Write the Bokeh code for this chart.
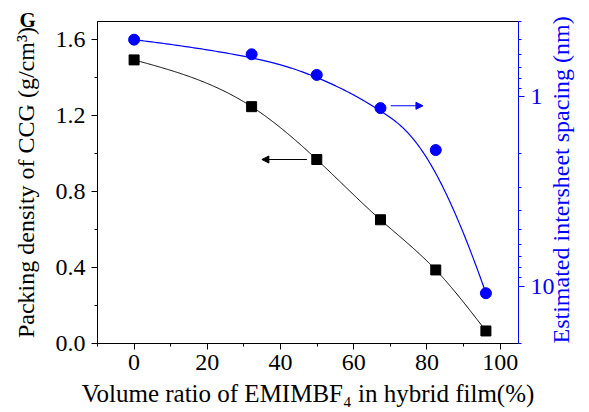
import numpy as np
from math import pi
from bokeh.plotting import figure
from bokeh.models import (Range1d, LogScale, LogAxis, LinearAxis, FixedTicker,
                          SingleIntervalTicker, PrintfTickFormatter, Title,
                          Arrow, NormalHead)
from bokeh.embed import file_html
from bokeh.resources import INLINE

# ---------------- data ----------------
volume_ratio = [0.0, 32.1, 49.9, 67.3, 82.4, 96.1]          # % EMIMBF4
packing_density = [1.492, 1.246, 0.968, 0.651, 0.387, 0.066]  # g/cm3
intersheet_spacing = [0.499, 0.596, 0.766, 1.147, 1.91, 10.9]  # nm

x_ticks = [0, 20, 40, 60, 80, 100]
left_ticks = [0.0, 0.4, 0.8, 1.2, 1.6]
right_ticks = [1, 10]
right_minor = [0.4, 0.5, 0.6, 0.7, 0.8, 0.9, 2, 3, 4, 5, 6, 7, 8, 9, 20]

# annotation arrows (data coordinates)
black_arrow = dict(x0=47.2, x1=34.9, y=0.968)
blue_arrow = dict(x0=70.1, x1=78.9, y=1.115)

FONT = "Liberation Serif"
BLUE = "#0000ff"

xk = np.array(volume_ratio)
yk = np.array(packing_density)
dk = np.array(intersheet_spacing)


def natural_cubic(xk, yk, xs):
    n = len(xk)
    h = np.diff(xk)
    A = np.zeros((n, n))
    r = np.zeros(n)
    A[0, 0] = 1
    A[-1, -1] = 1
    for i in range(1, n - 1):
        A[i, i - 1] = h[i - 1]
        A[i, i] = 2 * (h[i - 1] + h[i])
        A[i, i + 1] = h[i]
        r[i] = 6 * ((yk[i + 1] - yk[i]) / h[i] - (yk[i] - yk[i - 1]) / h[i - 1])
    M = np.linalg.solve(A, r)
    idx = np.clip(np.searchsorted(xk, xs) - 1, 0, n - 2)
    x0 = xk[idx]
    x1 = xk[idx + 1]
    hh = x1 - x0
    t1 = x1 - xs
    t0 = xs - x0
    return (M[idx] * t1 ** 3 / (6 * hh) + M[idx + 1] * t0 ** 3 / (6 * hh)
            + (yk[idx] / hh - M[idx] * hh / 6) * t1
            + (yk[idx + 1] / hh - M[idx + 1] * hh / 6) * t0)


def clamped_bspline(cx, cy, num=400, k=3):
    n = len(cx)
    spans = n - k
    knots = np.concatenate([np.zeros(k), np.arange(0, spans + 1), np.full(k, spans)]).astype(float)
    u = np.linspace(0, spans, num)
    N = np.zeros((num, len(knots) - 1))
    for i in range(len(knots) - 1):
        N[:, i] = ((u >= knots[i]) & (u < knots[i + 1])).astype(float)
    N[u >= spans, n - 1] = 1.0
    for d in range(1, k + 1):
        Nn = np.zeros((num, len(knots) - 1 - d))
        for i in range(len(knots) - 1 - d):
            a = knots[i + d] - knots[i]
            b = knots[i + d + 1] - knots[i + 1]
            t1 = (u - knots[i]) / a * N[:, i] if a > 0 else 0.0
            t2 = (knots[i + d + 1] - u) / b * N[:, i + 1] if b > 0 else 0.0
            Nn[:, i] = t1 + t2
        N = Nn
    return N @ np.asarray(cx), N @ np.asarray(cy)


xs = np.linspace(xk[0], xk[-1], 400)
black_curve = natural_cubic(xk, yk, xs)

# B-spline connection for spacing (in displayed log space)
bx, by = clamped_bspline(xk, np.log10(dk))
blue_curve = 10 ** by

# ---------------- figure ----------------
p = figure(width=589, height=412, output_backend="svg", toolbar_location=None,
           x_range=Range1d(-10, 105), y_range=Range1d(0, 1.694),
           min_border_left=97, min_border_right=68, min_border_top=21,
           min_border_bottom=69, background_fill_color="white",
           border_fill_color="white", x_axis_type=None, y_axis_type=None)
p.outline_line_color = "black"
p.outline_line_width = 1
p.xgrid.visible = False
p.ygrid.visible = False

p.extra_y_ranges = {"right": Range1d(start=20.1, end=0.4)}
p.extra_y_scales = {"right": LogScale()}


def style_axis(ax, color, size):
    ax.axis_line_color = color
    ax.major_tick_line_color = color
    ax.minor_tick_line_color = color
    ax.major_label_text_color = color
    ax.axis_label_text_color = color
    ax.major_tick_in = 0
    ax.major_tick_out = 6
    ax.minor_tick_in = 0
    ax.minor_tick_out = 3
    ax.major_label_text_font = FONT
    ax.major_label_text_font_size = "24px"
    ax.axis_label_text_font = FONT
    ax.axis_label_text_font_size = size
    ax.axis_label_text_font_style = "normal"


xaxis = LinearAxis(ticker=SingleIntervalTicker(interval=20, num_minor_ticks=2),
                   axis_label="Volume ratio of EMIMBF\u2084 in hybrid film(%)")
style_axis(xaxis, "black", "25px")
xaxis.major_label_standoff = 5
xaxis.axis_label_standoff = 7
p.add_layout(xaxis, "below")

yaxis = LinearAxis(ticker=SingleIntervalTicker(interval=0.4, num_minor_ticks=2),
                   formatter=PrintfTickFormatter(format="%.1f"),
                   axis_label="Packing density of CCG (g/cm\u00b3)")
style_axis(yaxis, "black", "24px")
yaxis.major_label_standoff = 6
yaxis.axis_label_standoff = 14
p.add_layout(yaxis, "left")

raxis = LogAxis(y_range_name="right",
                ticker=FixedTicker(ticks=right_ticks, minor_ticks=right_minor),
                formatter=PrintfTickFormatter(format="%d"),
                axis_label="Estimated intersheet spacing (nm)")
style_axis(raxis, BLUE, "24px")
raxis.major_label_standoff = 6
raxis.axis_label_standoff = 3
raxis.axis_label_orientation = pi / 2
raxis.axis_label_align = "end"
p.add_layout(raxis, "right")

# panel letter
p.add_layout(Title(text="G", align="left", offset=-78, standoff=-20,
                   text_font=FONT, text_font_size="21px",
                   text_font_style="bold", text_color="black"), "above")

# curves and points
p.line(xs, black_curve, line_color="black", line_width=1)
p.line(bx, blue_curve, line_color=BLUE, line_width=1.2, y_range_name="right")
p.scatter(volume_ratio, packing_density, marker="square", size=10,
          fill_color="black", line_color="black")
p.scatter(volume_ratio, intersheet_spacing, marker="circle", size=11,
          fill_color=BLUE, line_color=BLUE, y_range_name="right")

# arrows
p.add_layout(Arrow(end=NormalHead(size=7, fill_color="black", line_color="black"),
                   x_start=black_arrow["x0"], y_start=black_arrow["y"],
                   x_end=black_arrow["x1"], y_end=black_arrow["y"],
                   line_color="black", line_width=1))
p.add_layout(Arrow(end=NormalHead(size=7, fill_color=BLUE, line_color=BLUE),
                   x_start=blue_arrow["x0"], y_start=blue_arrow["y"],
                   x_end=blue_arrow["x1"], y_end=blue_arrow["y"],
                   line_color=BLUE, line_width=1.2, y_range_name="right"))

open("out.html", "w").write(file_html(p, INLINE))
